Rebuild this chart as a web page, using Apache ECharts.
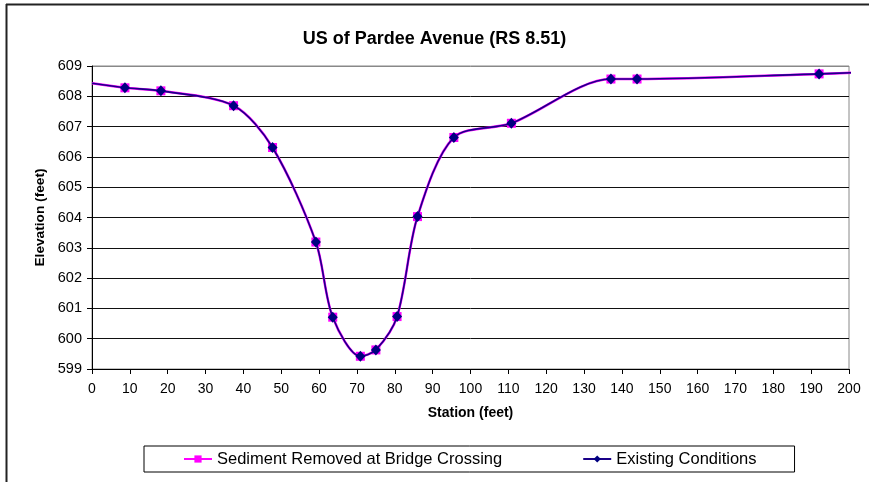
<!DOCTYPE html>
<html>
<head>
<meta charset="utf-8">
<script src="https://cdn.jsdelivr.net/npm/echarts@6/dist/echarts.min.js"></script>
<style>html,body{margin:0;padding:0;background:#fff}#c{width:869px;height:482px}</style>
</head>
<body>
<div id="c"></div>
<script>
const stations = [0, 8.7, 18.2, 37.4, 47.7, 59.15, 63.6, 70.9, 75.0, 80.6, 86.0, 95.6, 110.8, 137.1, 144.0, 192.1, 201];
const elevSediment = [608.43, 608.28, 608.18, 607.69, 606.31, 603.19, 600.71, 599.42, 599.63, 600.73, 604.03, 606.64, 607.11, 608.57, 608.57, 608.74, 608.78];
const elevExisting = [608.43, 608.28, 608.18, 607.69, 606.31, 603.19, 600.71, 599.42, 599.63, 600.73, 604.03, 606.64, 607.11, 608.57, 608.57, 608.74, 608.78];
const hiddenMarker = [true, false, false, false, false, false, false, false, false, false, false, false, false, false, false, false, true];
const seriesNames = ['Sediment Removed at Bridge Crossing', 'Existing Conditions'];
const titleText = 'US of Pardee Avenue (RS 8.51)';
const xName = 'Station (feet)';
const yName = 'Elevation (feet)';

const FONT = '"Liberation Sans", Arial, sans-serif';
function build(vals) {
  return stations.map((s, i) => hiddenMarker[i] ? { value: [s, vals[i]], symbol: 'none' } : { value: [s, vals[i]] });
}
const gridColors = [];
for (let i = 0; i < 10; i++) gridColors.push('#111');
gridColors.push('#888');

const chart = echarts.init(document.getElementById('c'), null, { renderer: 'canvas' });
chart.setOption({
  animation: false,
  backgroundColor: '#fff',
  textStyle: { fontFamily: FONT, color: '#000' },
  title: {
    text: titleText, left: 'center', top: 25,
    textStyle: { fontFamily: FONT, fontSize: 18, fontWeight: 'bold', color: '#000' }
  },
  grid: { left: 92, top: 66, width: 757, height: 303, show: true, borderColor: '#888', borderWidth: 1, containLabel: false },
  xAxis: {
    type: 'value', min: 0, max: 200, interval: 10,
    name: xName, nameLocation: 'middle', nameGap: 37,
    nameTextStyle: { fontFamily: FONT, fontSize: 14, fontWeight: 'bold', color: '#000' },
    axisLine: { show: true, onZero: false, lineStyle: { color: '#000', width: 1 } },
    axisTick: { show: true, inside: false, length: 5, lineStyle: { color: '#000' } },
    axisLabel: { fontFamily: FONT, fontSize: 14, color: '#000', margin: 13 },
    splitLine: { show: false }
  },
  yAxis: {
    type: 'value', min: 599, max: 609, interval: 1,
    name: yName, nameLocation: 'middle', nameGap: 42, nameRotate: 90,
    nameTextStyle: { fontFamily: FONT, fontSize: 13.7, fontWeight: 'bold', color: '#000' },
    axisLine: { show: true, lineStyle: { color: '#000', width: 1 } },
    axisTick: { show: true, inside: false, length: 5, lineStyle: { color: '#000' } },
    axisLabel: { fontFamily: FONT, fontSize: 14.5, color: '#000', margin: 10 },
    splitLine: { show: true, lineStyle: { color: gridColors, width: 1 } }
  },
  legend: {
    left: 144, top: 446,
    padding: [4, 38, 4, 39],
    itemGap: 80, itemWidth: 28, itemHeight: 9,
    borderColor: '#000', borderWidth: 1,
    textStyle: { fontFamily: FONT, fontSize: 16.5, color: '#000', lineHeight: 18 },
    data: seriesNames
  },
  series: [
    {
      name: seriesNames[0], type: 'line', data: build(elevSediment),
      smooth: 0.3, clip: false,
      symbol: 'rect', symbolSize: 9,
      lineStyle: { color: '#ff00ff', width: 2.5 },
      itemStyle: { color: '#ff00ff' },
      z: 2
    },
    {
      name: seriesNames[1], type: 'line', data: build(elevExisting),
      smooth: 0.3, clip: false,
      symbol: 'diamond', symbolSize: [10, 11],
      lineStyle: { color: '#1a0088', width: 1.6 },
      itemStyle: { color: '#000080' },
      z: 3
    }
  ],
  graphic: [
    { type: 'line', shape: { x1: 6, y1: 4.5, x2: 869, y2: 4.5 }, style: { stroke: '#222', lineWidth: 2 } },
    { type: 'line', shape: { x1: 6.5, y1: 4, x2: 6.5, y2: 482 }, style: { stroke: '#222', lineWidth: 2 } }
  ]
});
</script>
</body>
</html>
